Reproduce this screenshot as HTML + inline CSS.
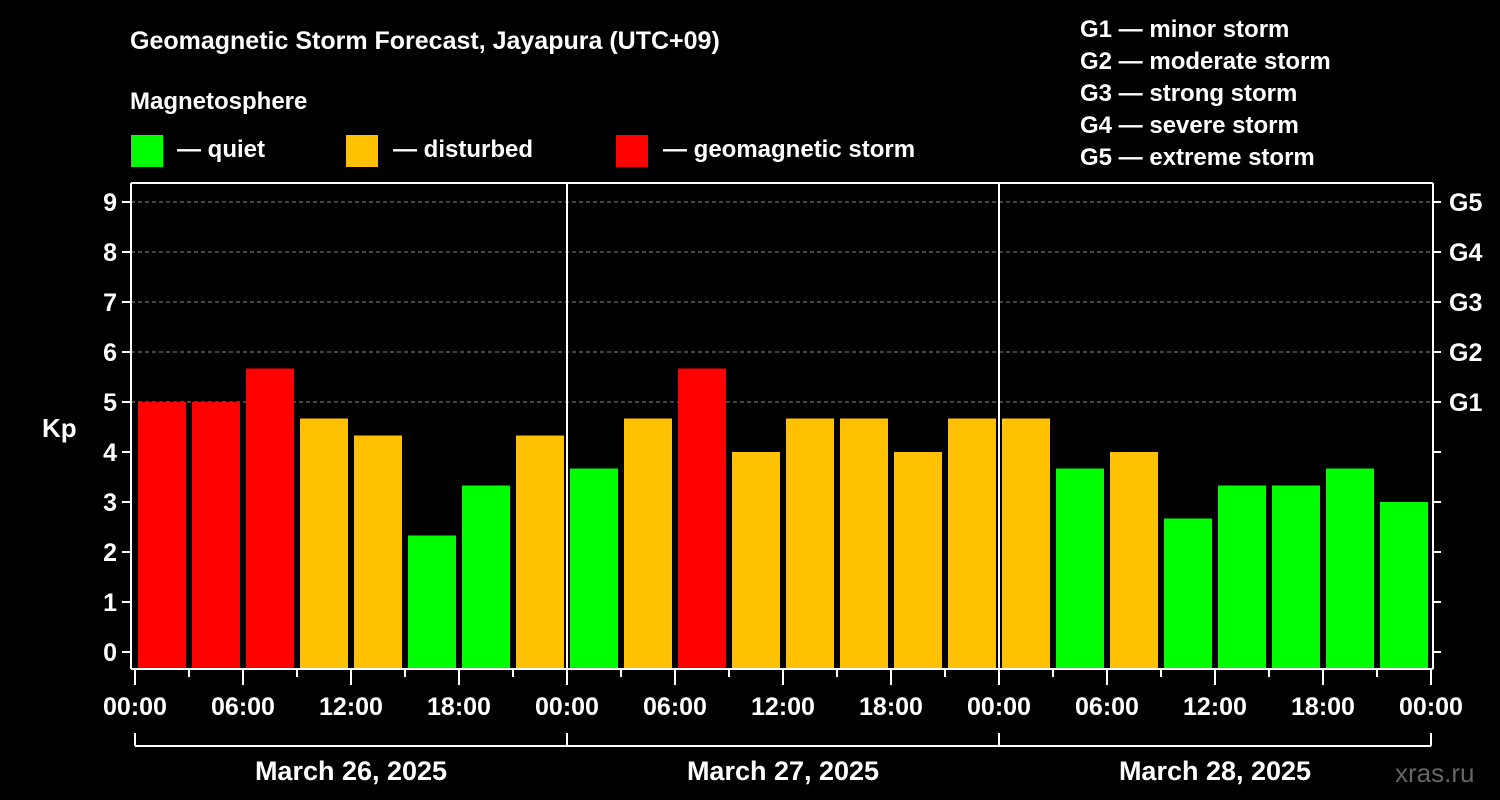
<!DOCTYPE html>
<html><head><meta charset="utf-8"><style>
body{margin:0;background:#000;width:1500px;height:800px;overflow:hidden}
svg{display:block;font-family:"Liberation Sans",Arial,sans-serif;font-weight:bold}
</style></head><body>
<svg id="c" width="1500" height="800">
<text x="130" y="49" fill="#fff" font-size="25">Geomagnetic Storm Forecast, Jayapura (UTC+09)</text>
<text x="130" y="109" fill="#fff" font-size="24">Magnetosphere</text>
<g><rect x="131" y="135" width="32" height="32" fill="#00ff00"/><text x="177" y="157" fill="#fff" font-size="24">— quiet</text></g>
<g><rect x="346" y="135" width="32" height="32" fill="#ffc000"/><text x="393" y="157" fill="#fff" font-size="24">— disturbed</text></g>
<g><rect x="616" y="135" width="32" height="32" fill="#ff0000"/><text x="663" y="157" fill="#fff" font-size="24">— geomagnetic storm</text></g>
<g fill="#fff" font-size="24">
<text x="1080" y="37">G1 — minor storm</text><text x="1080" y="69">G2 — moderate storm</text><text x="1080" y="101">G3 — strong storm</text><text x="1080" y="133">G4 — severe storm</text><text x="1080" y="165">G5 — extreme storm</text></g>
<text x="42" y="437" fill="#fff" font-size="26">Kp</text>
<text x="1395" y="782" fill="#666" font-size="26" font-weight="normal">xras.ru</text>
<g id="grid"></g><g id="bars"></g><g id="axes"></g>
</svg>
<script>
const kpValues=[5,5,5.67,4.67,4.33,2.33,3.33,4.33, 3.67,4.67,5.67,4,4.67,4.67,4,4.67, 4.67,3.67,4,2.67,3.33,3.33,3.67,3];
const dayLabels=["March 26, 2025","March 27, 2025","March 28, 2025"];
const timeLabels=["00:00","06:00","12:00","18:00"];
const yTicks=[0,1,2,3,4,5,6,7,8,9];
const gLabels=["G1","G2","G3","G4","G5"];
const NS="http://www.w3.org/2000/svg";
const L=131,R=1433,T=183,B=669;
const x=h=>135+h*18;
const y=v=>652-v*50;
function mk(tag,attrs,parent,text){const e=document.createElementNS(NS,tag);for(const k in attrs)e.setAttribute(k,attrs[k]);if(text!==undefined)e.textContent=text;document.getElementById(parent).appendChild(e);return e;}
yTicks.forEach(v=>{if(v>=5){const g=mk('line',{x1:L,x2:R,y1:y(v),y2:y(v),stroke:'#888','stroke-dasharray':'4,3','stroke-width':1},'grid');

}});
kpValues.forEach((v,i)=>{const col=v>=5?'#ff0000':(v>=4?'#ffc000':'#00ff00');
const r=mk('rect',{x:x(3*i)+3,y:y(v),width:48,height:B-y(v),fill:col},'bars');

});
const ax=(a)=>mk('line',Object.assign({stroke:'#fff','stroke-width':2},a),'axes');
ax({x1:L,x2:L,y1:T,y2:B});ax({x1:R,x2:R,y1:T,y2:B});ax({x1:L,x2:R,y1:T,y2:T});ax({x1:L,x2:R,y1:B,y2:B});
[1,2].forEach(d=>ax({x1:x(24*d),x2:x(24*d),y1:T,y2:B}));
yTicks.forEach(v=>{ax({x1:122,x2:L,y1:y(v),y2:y(v)});ax({x1:R,x2:1441,y1:y(v),y2:y(v)});
const t=mk('text',{x:117,y:y(v)+9,fill:'#fff','font-size':25,'text-anchor':'end'},'axes',String(v));

});
gLabels.forEach((g,i)=>{const t=mk('text',{x:1449,y:y(5+i)+9,fill:'#fff','font-size':25},'axes',g);

});
for(let h=0;h<=72;h+=3){const major=h%6===0;ax({x1:x(h),x2:x(h),y1:B,y2:major?685:677});
if(major){const t=mk('text',{x:x(h),y:715,fill:'#fff','font-size':25,'text-anchor':'middle'},'axes',timeLabels[(h/6)%4]);

}}
ax({x1:x(0),x2:x(72),y1:746,y2:746});
for(let d=0;d<=3;d++)ax({x1:x(24*d),x2:x(24*d),y1:733,y2:746});
dayLabels.forEach((s,d)=>{const t=mk('text',{x:x(24*d+12),y:780,fill:'#fff','font-size':27,'text-anchor':'middle'},'axes',s);

});
</script>
</body></html>
